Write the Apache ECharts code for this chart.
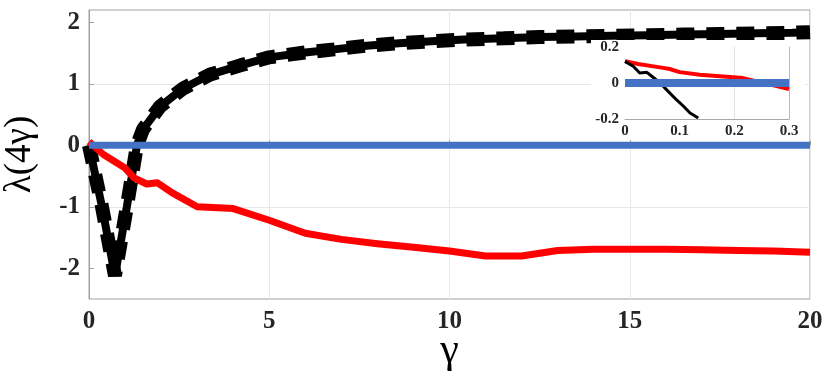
<!DOCTYPE html>
<html lang="en">

<head>
    <meta charset="UTF-8">
    <title>lambda(4 gamma)</title>
    <script src="https://cdn.jsdelivr.net/npm/echarts@6/dist/echarts.min.js"></script>
    <style>
        html, body { margin: 0; padding: 0; background: #fff; }
        #chart { width: 826px; height: 375px; }
    </style>
</head>

<body>
    <div id="chart"></div>
    <script>
        // main curves
        var blackX = [0, 0.36, 0.72, 1.05, 1.33, 1.5, 1.97, 2.6, 3.36, 4.2, 5, 6, 6.8, 7.7, 8.6, 9.5, 10.4, 11.5, 12.5, 13.5, 14.5, 15.5, 16.5, 17.5, 18.5, 19.5, 20];
        var blackY = [0, -1.0, -2.12, -1.0, 0, 0.26, 0.63, 0.92, 1.15, 1.3, 1.43, 1.51, 1.56, 1.62, 1.66, 1.69, 1.72, 1.74, 1.76, 1.77, 1.78, 1.79, 1.8, 1.81, 1.82, 1.83, 1.84];

        var redX = [0, 0.4, 0.7, 1, 1.25, 1.6, 1.9, 2.3, 3, 4, 5, 6, 7, 8, 9, 10, 11, 12, 13, 14, 15, 16, 17, 18, 19, 20];
        var redY = [0.06, -0.15, -0.26, -0.37, -0.53, -0.63, -0.61, -0.77, -1.0, -1.03, -1.22, -1.43, -1.53, -1.6, -1.66, -1.72, -1.8, -1.8, -1.71, -1.69, -1.69, -1.69, -1.7, -1.71, -1.72, -1.74];

        var blueX = [0, 20];
        var blueY = [0, 0];

        // inset (zoom near gamma = 0)
        var insetRedX = [0, 0.024, 0.064, 0.082, 0.1, 0.137, 0.216, 0.247, 0.3];
        var insetRedY = [0.12, 0.105, 0.086, 0.077, 0.06, 0.045, 0.027, 0.005, -0.033];
        var insetBlackX = [0, 0.015, 0.027, 0.04, 0.049, 0.064, 0.079, 0.094, 0.107, 0.119, 0.134];
        var insetBlackY = [0.119, 0.092, 0.055, 0.059, 0.037, 0, -0.046, -0.092, -0.128, -0.165, -0.193];
        var insetBlueX = [0, 0.3];
        var insetBlueY = [0, 0];

        var xTicks = [0, 5, 10, 15, 20];
        var yTicks = [-2, -1, 0, 1, 2];

        function pairs(xs, ys) {
            return xs.map(function (x, i) { return [x, ys[i]]; });
        }

        var serif = "'Liberation Serif', 'DejaVu Serif', serif";
        var labelStyle = { color: '#262626', fontFamily: serif, fontWeight: 'bold', fontSize: 25 };
        var insetLabel = { color: '#262626', fontFamily: serif, fontWeight: 'bold', fontSize: 15 };

        var myChart = echarts.init(document.getElementById('chart'));
        var option = {
            animation: false,
            backgroundColor: '#fff',
            grid: [{
                left: 89, right: 16, top: 10, bottom: 76,
                show: true, borderColor: '#a0a0a0', borderWidth: 1,
                containLabel: false, outerBoundsMode: 'none'
            }, {
                left: 625, width: 164, top: 46.7, height: 72.6,
                show: false, z: 55, containLabel: false, outerBoundsMode: 'none'
            }],
            graphic: [{
                type: 'rect',
                z: 50,
                shape: { x: 591, y: 40, width: 214, height: 100 },
                style: { fill: '#fff' }
            }],
            xAxis: [{
                gridIndex: 0,
                type: 'value',
                min: 0, max: 20, interval: 5,
                name: 'γ',
                nameLocation: 'middle',
                nameGap: 31,
                nameMoveOverlap: false,
                nameTextStyle: { fontFamily: serif, fontSize: 42, color: '#000' },
                axisLine: { show: true, lineStyle: { color: '#a0a0a0' } },
                axisTick: { show: true, inside: true, length: 5, lineStyle: { color: '#a0a0a0' } },
                axisLabel: Object.assign({ margin: 10, customValues: xTicks }, labelStyle),
                splitLine: { show: true, lineStyle: { color: '#e8e8e8' } }
            }, {
                gridIndex: 1,
                type: 'value',
                min: 0, max: 0.3, interval: 0.1,
                z: 60,
                axisLine: { show: true, onZero: false, lineStyle: { color: '#a8a8a8' } },
                axisTick: { show: false },
                axisLabel: Object.assign({ margin: 4 }, insetLabel),
                splitLine: { show: true, lineStyle: { color: ['rgba(0,0,0,0)', 'rgba(0,0,0,0)', '#e2e2e2', '#b8b8b8'] } }
            }],
            yAxis: [{
                gridIndex: 0,
                type: 'value',
                min: -2.5, max: 2.2, interval: 0.5,
                name: 'λ(4γ)',
                nameLocation: 'middle',
                nameGap: 50,
                nameMoveOverlap: false,
                nameTextStyle: { fontFamily: serif, fontSize: 37, color: '#000' },
                axisLine: { show: true, lineStyle: { color: '#a0a0a0' } },
                axisTick: { show: true, inside: true, length: 5, customValues: yTicks, lineStyle: { color: '#a0a0a0' } },
                axisLabel: Object.assign({ margin: 9, customValues: yTicks }, labelStyle),
                splitLine: { show: true, lineStyle: { color: ['rgba(0,0,0,0)', '#e8e8e8'] } }
            }, {
                gridIndex: 1,
                type: 'value',
                min: -0.2, max: 0.2, interval: 0.2,
                z: 60,
                axisLine: { show: false },
                axisTick: { show: false },
                axisLabel: Object.assign({ margin: 6 }, insetLabel),
                splitLine: { show: false }
            }],
            series: [{
                name: 'black core',
                type: 'line',
                data: pairs(blackX, blackY),
                showSymbol: false,
                lineStyle: { color: '#000', width: 8 },
                z: 3
            }, {
                name: 'black dashes',
                type: 'line',
                data: pairs(blackX, blackY),
                showSymbol: false,
                lineStyle: { color: '#000', width: 14, type: [18, 12], cap: 'butt' },
                z: 3
            }, {
                name: 'red',
                type: 'line',
                data: pairs(redX, redY),
                showSymbol: false,
                lineStyle: { color: '#ff0000', width: 7, join: 'round' },
                z: 4
            }, {
                name: 'blue',
                type: 'line',
                data: pairs(blueX, blueY),
                showSymbol: false,
                lineStyle: { color: '#4472c4', width: 7, cap: 'butt' },
                z: 5
            }, {
                name: 'inset red',
                type: 'line',
                xAxisIndex: 1, yAxisIndex: 1,
                data: pairs(insetRedX, insetRedY),
                showSymbol: false,
                lineStyle: { color: '#ff0000', width: 4 },
                z: 60
            }, {
                name: 'inset black',
                type: 'line',
                xAxisIndex: 1, yAxisIndex: 1,
                data: pairs(insetBlackX, insetBlackY),
                showSymbol: false,
                lineStyle: { color: '#000', width: 3 },
                z: 61
            }, {
                name: 'inset blue',
                type: 'line',
                xAxisIndex: 1, yAxisIndex: 1,
                data: pairs(insetBlueX, insetBlueY),
                showSymbol: false,
                lineStyle: { color: '#4472c4', width: 8, cap: 'butt' },
                z: 62
            }]
        };
        myChart.setOption(option);
    </script>
</body>

</html>
